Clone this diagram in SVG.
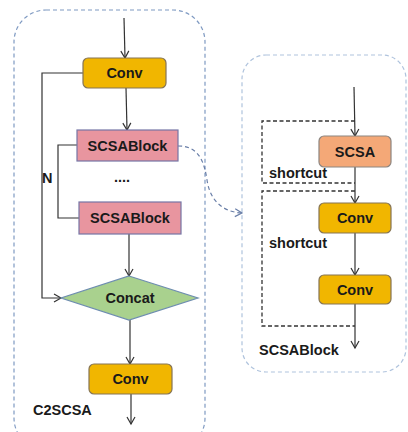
<svg xmlns="http://www.w3.org/2000/svg" width="408" height="432" viewBox="0 0 408 432">
  <style>
    .lbl { font-family: "Liberation Sans", Arial, sans-serif; font-weight: bold; font-size: 14.5px; fill: #1a1a1a; }
    .mid { text-anchor: middle; dominant-baseline: central; }
    .conv { fill: #F1B600; stroke: #857455; stroke-width: 1.2; }
    .blk { fill: #E8959F; stroke: #7676A6; stroke-width: 1.2; }
    .cat { fill: #A9D18E; stroke: #6E8DB0; stroke-width: 1.2; }
    .scsa { fill: #F4A877; stroke: #8C8580; stroke-width: 1.2; }
    .wire { fill: none; stroke: #333; stroke-width: 1.2; }
    .short { fill: none; stroke: #333; stroke-width: 1.3; stroke-dasharray: 4 2.5; }
    .frame { fill: none; stroke-width: 1.2; stroke-dasharray: 4 3; }
  </style>
  <defs>
    <marker id="arr" markerWidth="10" markerHeight="10" refX="8" refY="5" orient="auto" markerUnits="userSpaceOnUse">
      <path d="M1,1 L8,5 L1,9" fill="none" stroke="#333" stroke-width="1.2"/>
    </marker>
    <marker id="arrb" markerWidth="10" markerHeight="10" refX="8" refY="5" orient="auto" markerUnits="userSpaceOnUse">
      <path d="M1,1 L8,5 L1,9" fill="none" stroke="#6A7FA8" stroke-width="1.2"/>
    </marker>
  </defs>

  <!-- module frames -->
  <g id="frame-c2scsa">
    <rect class="frame" x="14" y="10" width="191" height="440" rx="32" stroke="#7F9AC2"/>
    <text class="lbl" x="33" y="415">C2SCSA</text>
  </g>
  <g id="frame-scsablock">
    <rect class="frame" x="242" y="55" width="164" height="317" rx="24" stroke="#AFC3DD"/>
    <text class="lbl" x="259" y="355">SCSABlock</text>
  </g>

  <!-- connectors -->
  <g id="connectors">
    <line class="wire" x1="124" y1="18" x2="125" y2="58" marker-end="url(#arr)"/>
    <line class="wire" x1="126" y1="88" x2="127" y2="130" marker-end="url(#arr)"/>
    <line class="wire" x1="129" y1="234" x2="129" y2="276" marker-end="url(#arr)"/>
    <line class="wire" x1="130" y1="320" x2="130" y2="364" marker-end="url(#arr)"/>
    <line class="wire" x1="131" y1="394" x2="131" y2="424" marker-end="url(#arr)"/>
    <polyline class="wire" points="83,73 42,73 42,298 61,298" marker-end="url(#arr)"/>
    <polyline class="wire" points="77,145 58,145 58,218 79,218"/>
    <text class="lbl" x="42" y="183">N</text>
    <text class="lbl" x="122" y="182" text-anchor="middle" fill="#444">....</text>

    <path d="M178,146 C198,146 204,160 207,180 C210,200 222,212 242,213" fill="none" stroke="#6A7FA8" stroke-width="1.2" stroke-dasharray="4 3" marker-end="url(#arrb)"/>

    <line class="wire" x1="354" y1="87" x2="355" y2="136" marker-end="url(#arr)"/>
    <line class="wire" x1="355" y1="167" x2="355" y2="203" marker-end="url(#arr)"/>
    <line class="wire" x1="355" y1="233" x2="355" y2="275" marker-end="url(#arr)"/>
    <line class="wire" x1="355" y1="304" x2="355" y2="348" marker-end="url(#arr)"/>
    <polyline class="short" points="355,121 262,121 262,183 355,183"/>
    <polyline class="short" points="355,191 262,191 262,326 355,326"/>
    <text class="lbl" x="269" y="178">shortcut</text>
    <text class="lbl" x="269" y="248">shortcut</text>
  </g>

  <!-- C2SCSA nodes -->
  <g id="conv-in">
    <rect class="conv" x="83" y="58" width="83" height="30" rx="5"/>
    <text class="lbl mid" x="124.5" y="73">Conv</text>
  </g>
  <g id="scsablock-1">
    <rect class="blk" x="77" y="130" width="101" height="31"/>
    <text class="lbl mid" x="127.5" y="145.5">SCSABlock</text>
  </g>
  <g id="scsablock-2">
    <rect class="blk" x="79" y="202" width="102" height="32"/>
    <text class="lbl mid" x="130" y="218">SCSABlock</text>
  </g>
  <g id="concat">
    <polygon class="cat" points="129,276 198,298 129,320 61,298"/>
    <text class="lbl mid" x="130" y="298">Concat</text>
  </g>
  <g id="conv-out">
    <rect class="conv" x="89" y="364" width="83" height="30" rx="5"/>
    <text class="lbl mid" x="130.5" y="379">Conv</text>
  </g>

  <!-- SCSABlock nodes -->
  <g id="scsa">
    <rect class="scsa" x="319" y="136" width="72" height="31" rx="5"/>
    <text class="lbl mid" x="355" y="151.5">SCSA</text>
  </g>
  <g id="conv-a">
    <rect class="conv" x="319" y="203" width="72" height="30" rx="5"/>
    <text class="lbl mid" x="355" y="218">Conv</text>
  </g>
  <g id="conv-b">
    <rect class="conv" x="319" y="275" width="72" height="29" rx="5"/>
    <text class="lbl mid" x="355" y="289.5">Conv</text>
  </g>
</svg>
